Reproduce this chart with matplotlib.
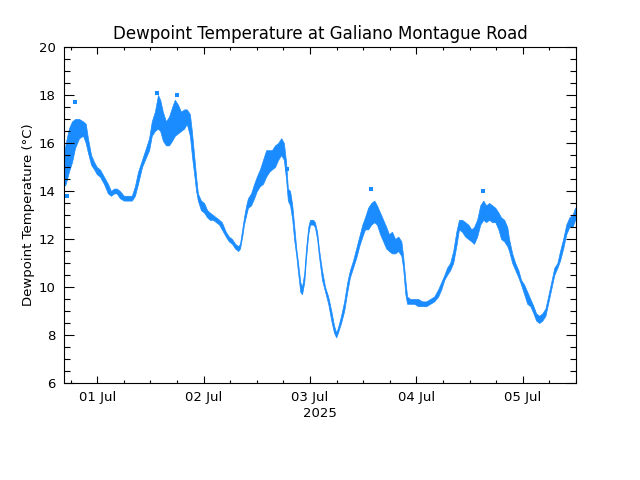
import numpy as np
import matplotlib
matplotlib.use("Agg")
import matplotlib.pyplot as plt
from matplotlib.ticker import MultipleLocator, FixedLocator

# hours since 01 Jul 2025 00:00
hours = [-7.5, -7.1, -6.4, -5.7, -5.0, -4.1, -3.2, -2.6, -2.1, -1.4, -0.7, -0.1,
         0.6, 1.5, 2.4, 3.1, 3.8, 4.4, 5.1, 6.0, 6.9, 7.8, 8.5, 9.2, 10.1, 11.0,
         11.7, 12.3, 13.0, 13.7, 14.2, 14.8, 15.5, 16.2, 16.9, 17.5, 18.2, 18.9,
         19.6, 20.2, 20.9, 21.4, 21.8, 22.3, 22.7, 23.4, 24.1, 24.8, 25.4, 26.1,
         26.8, 27.5, 28.1, 29.0, 29.7, 30.4, 31.1, 31.8, 32.2, 32.7, 33.1, 33.6,
         34.0, 34.7, 35.4, 36.0, 36.7, 37.4, 38.1, 38.8, 39.4, 40.1, 40.8, 41.5,
         42.1, 42.6, 43.0, 43.5, 44.0, 44.4, 44.9, 45.3, 45.8, 46.2, 46.7, 47.1,
         47.6, 48.0, 48.7, 49.1, 49.6, 50.0, 50.7, 51.4, 52.1, 52.8, 53.4, 53.9,
         54.3, 55.0, 55.7, 56.4, 57.0, 57.7, 58.4, 59.1, 59.8, 60.4, 61.1, 61.8,
         62.5, 63.1, 63.8, 64.5, 65.2, 65.8, 66.5, 67.2, 67.9, 68.6, 69.0, 69.5,
         69.9, 70.6, 71.5, 72.4, 73.3, 74.2, 75.1, 76.0, 76.9, 77.6, 78.3, 78.9,
         79.6, 80.3, 81.0, 81.6, 82.3, 83.0, 83.7, 84.4, 85.0, 85.7, 86.4, 87.1,
         87.7, 88.4, 89.1, 89.8, 90.5, 91.1, 91.8, 92.5, 92.9, 93.6, 94.3, 95.0,
         95.6, 96.3, 97.0, 97.7, 98.4, 99.0, 99.7, 100.4, 101.1, 101.7, 102.4,
         103.1, 103.8, 104.4, 105.1, 105.8, 106.5, 107.2, 107.8, 108.0]

# lower / upper edge of the scattered dewpoint readings (deg C)
dew_lo = [14.2, 14.3, 14.8, 15.2, 15.8, 16.2, 16.3, 16.0, 15.6, 15.1, 14.9, 14.7,
          14.6, 14.3, 13.9, 13.8, 13.9, 13.9, 13.7, 13.6, 13.6, 13.6, 13.8, 14.3,
          15.0, 15.4, 15.7, 16.3, 16.5, 16.6, 16.5, 16.1, 15.9, 15.9, 16.1, 16.3,
          16.4, 16.5, 16.6, 16.8, 16.3, 15.4, 14.8, 14.0, 13.6, 13.2, 13.1, 12.9,
          12.8, 12.8, 12.7, 12.6, 12.4, 12.1, 11.9, 11.8, 11.6, 11.5, 11.6, 12.1,
          12.6, 13.0, 13.3, 13.4, 13.7, 14.0, 14.2, 14.3, 14.6, 14.8, 14.9, 15.0,
          15.3, 15.5, 15.3, 14.5, 13.6, 13.4, 12.8, 12.0, 11.3, 10.6, 9.8, 9.7,
          10.2, 11.2, 12.2, 12.6, 12.6, 12.5, 12.0, 11.3, 10.3, 9.8, 9.3, 8.6,
          8.1, 7.9, 8.1, 8.5, 9.0, 9.8, 10.4, 10.8, 11.2, 11.7, 12.1, 12.4, 12.4,
          12.6, 12.7, 12.6, 12.2, 11.9, 11.6, 11.5, 11.4, 11.4, 11.5, 11.3, 10.8,
          9.7, 9.3, 9.3, 9.3, 9.2, 9.2, 9.2, 9.3, 9.4, 9.6, 9.9, 10.3, 10.5, 10.7,
          11.0, 11.7, 12.4, 12.3, 12.1, 12.0, 11.9, 11.8, 12.1, 12.6, 12.8, 12.7,
          12.8, 12.7, 12.7, 12.4, 12.0, 11.9, 11.7, 11.5, 11.0, 10.7, 10.4, 10.1,
          9.7, 9.3, 9.2, 8.9, 8.6, 8.5, 8.6, 8.8, 9.3, 9.9, 10.5, 10.8, 11.1, 11.6,
          12.2, 12.5, 12.5, 12.8, 12.9]
dew_hi = [15.6, 16.0, 16.6, 16.9, 17.0, 17.0, 16.9, 16.8, 16.2, 15.5, 15.2, 15.0,
          14.9, 14.6, 14.3, 14.0, 14.1, 14.1, 14.0, 13.8, 13.8, 13.8, 14.2, 14.8,
          15.3, 15.8, 16.2, 16.9, 17.3, 18.0, 17.8, 17.3, 16.9, 17.1, 17.5, 17.8,
          17.6, 17.3, 17.4, 17.4, 17.2, 16.4, 15.6, 14.6, 13.9, 13.6, 13.5, 13.2,
          13.1, 13.0, 12.9, 12.8, 12.7, 12.3, 12.1, 12.0, 11.8, 11.7, 11.8, 12.4,
          12.9, 13.4, 13.7, 13.9, 14.3, 14.6, 14.9, 15.3, 15.7, 15.7, 15.7, 15.9,
          16.0, 16.2, 16.0, 15.2, 14.1, 14.0, 13.4, 12.6, 11.6, 11.0, 10.2, 10.0,
          10.6, 11.6, 12.5, 12.8, 12.8, 12.7, 12.3, 11.6, 10.7, 10.0, 9.6, 9.0,
          8.4, 8.1, 8.3, 8.8, 9.4, 10.2, 10.7, 11.1, 11.6, 12.1, 12.6, 12.9, 13.3,
          13.5, 13.6, 13.4, 13.1, 12.8, 12.5, 12.2, 12.3, 12.0, 12.1, 11.9, 11.3,
          10.3, 9.6, 9.5, 9.5, 9.5, 9.4, 9.4, 9.5, 9.6, 9.9, 10.2, 10.5, 10.8, 11.0,
          11.5, 12.3, 12.8, 12.8, 12.7, 12.6, 12.4, 12.5, 12.8, 13.4, 13.6, 13.4,
          13.5, 13.4, 13.3, 13.1, 12.9, 12.8, 12.5, 12.0, 11.4, 11.0, 10.7, 10.3,
          10.1, 9.8, 9.5, 9.2, 8.9, 8.8, 8.9, 9.1, 9.6, 10.2, 10.8, 11.0, 11.5, 12.0,
          12.6, 12.9, 13.0, 13.3, 13.3]

# a few isolated readings away from the main band
stray_hours = [-6.9, -5.0, 13.5, 18.0, 42.8, 61.8, 63.1, 87.0]
stray_dew = [13.8, 17.7, 18.1, 18.0, 14.9, 14.1, 13.1, 14.0]

day_labels = ["01 Jul", "02 Jul", "03 Jul", "04 Jul", "05 Jul"]
day_hours = [0, 24, 48, 72, 96]

blue = "#1a8cff"

fig = plt.figure(figsize=(6.4, 4.8), dpi=100)
ax = fig.add_axes([0.1, 0.2021, 0.8, 0.7])

ax.fill_between(hours, dew_lo, dew_hi, color=blue, linewidth=0.5, edgecolor=blue)
ax.plot(stray_hours, stray_dew, "s", color=blue, markersize=2.5, markeredgewidth=0)

ax.set_xlim(-7.5, 108)
ax.set_ylim(6, 20)

ax.xaxis.set_major_locator(FixedLocator(day_hours))
ax.xaxis.set_minor_locator(MultipleLocator(6))
ax.set_xticklabels(day_labels)
ax.yaxis.set_major_locator(MultipleLocator(2))
ax.yaxis.set_minor_locator(MultipleLocator(0.5))

ax.tick_params(which="both", direction="in", top=True, right=True,
               labelsize=9.5, width=0.8, colors="black", pad=6)
ax.tick_params(axis="x", which="major", length=5)
ax.tick_params(axis="x", which="minor", length=2.5)
ax.tick_params(axis="y", which="major", length=7.5)
ax.tick_params(axis="y", which="minor", length=4)
for s in ax.spines.values():
    s.set_linewidth(0.8)

ax.set_title("Dewpoint Temperature at Galiano Montague Road", fontsize=12, pad=6)
ax.set_ylabel("Dewpoint Temperature (°C)", fontsize=9.5, labelpad=2.5)
ax.text(0.5, -0.07, "2025", transform=ax.transAxes, ha="center", va="top",
        fontsize=9.5)

fig.savefig("out.png", dpi=100)
